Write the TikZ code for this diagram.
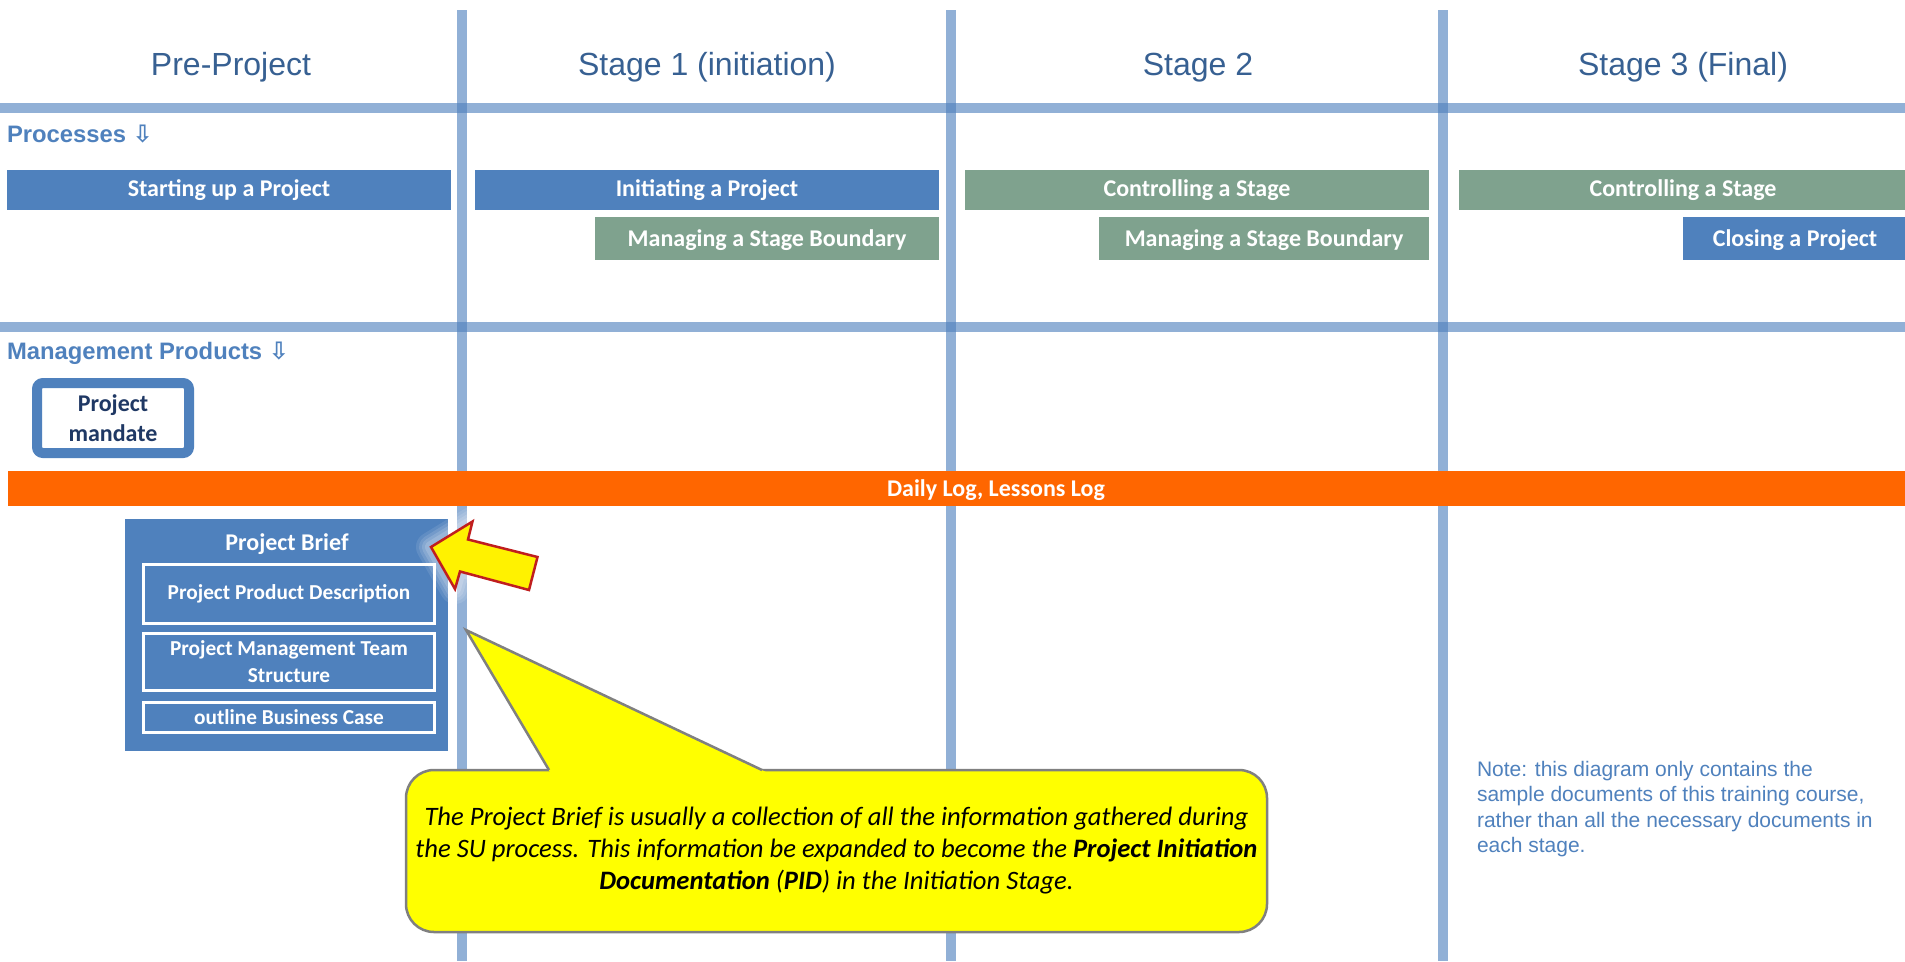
\documentclass[tikz,border=0pt]{standalone}
\usepackage{fontspec}
\setmainfont{Carlito}
\newfontfamily\arial{Liberation Sans}
\newfontfamily\symb{DejaVu Sans}

\definecolor{gridblue}{RGB}{79,129,189}
\definecolor{procblue}{RGB}{79,129,189}
\definecolor{procgreen}{RGB}{127,162,142}
\definecolor{headblue}{RGB}{55,96,146}
\definecolor{labelblue}{RGB}{79,129,189}
\definecolor{navy}{RGB}{31,56,100}
\definecolor{logorange}{RGB}{255,102,0}
\definecolor{notecol}{RGB}{79,129,189}
\definecolor{arrowred}{RGB}{192,30,30}
\definecolor{calloutgray}{RGB}{128,128,128}
\definecolor{calloutfill}{RGB}{255,255,0}

\begin{document}
\begin{tikzpicture}[x=1pt,y=-1pt,
  every node/.style={inner sep=0pt, outer sep=0pt},
  gridline/.style={draw=gridblue, line width=10pt, opacity=0.62},
  head/.style={font=\arial\fontsize{32}{38}\selectfont, text=headblue, anchor=base},
  rowlabel/.style={font=\arial\bfseries\fontsize{23.8}{28}\selectfont, text=labelblue, anchor=base west},
  procbar/.style={font=\bfseries\fontsize{24}{29}\selectfont, text=white, minimum height=40pt},
  boundarybar/.style={procbar, minimum height=43pt, text depth=0pt},
  subbox/.style={draw=white, line width=2.5pt, align=center, text=white,
    font=\bfseries\fontsize{21.3}{27}\selectfont},
  arrowshape/.style={fill=yellow, draw=arrowred, line width=2.5pt, line join=miter},
  callout/.style={fill=calloutfill, draw=calloutgray, line width=2.5pt},
]
\useasboundingbox (0,0) rectangle (1905,961);
\fill[white] (0,0) rectangle (1905,961);

% stage grid
\coordinate (v1t) at (461.5,10);  \coordinate (v1b) at (461.5,961);
\coordinate (v2t) at (951,10);    \coordinate (v2b) at (951,961);
\coordinate (v3t) at (1443,10);   \coordinate (v3b) at (1443,961);
\coordinate (h1l) at (0,108);     \coordinate (h1r) at (1905,108);
\coordinate (h2l) at (0,327);     \coordinate (h2r) at (1905,327);
\draw[gridline] (v1t) -- (v1b);
\draw[gridline] (v2t) -- (v2b);
\draw[gridline] (v3t) -- (v3b);
\draw[gridline] (h1l) -- (h1r);
\draw[gridline] (h2l) -- (h2r);

% stage headings
\node[head] (hpre) at (231,75) {Pre-Project};
\node[head] (hs1) at (707,75) {Stage 1 (initiation)};
\node[head] (hs2) at (1198,75) {Stage 2};
\node[head] (hs3) at (1683,75) {Stage 3 (Final)};

% row labels
\node[rowlabel] (lproc) at (7,142) {Processes {\symb\fontsize{24}{28}\selectfont ⇩}};
\node[rowlabel] (lprod) at (7,359) {Management Products {\symb\fontsize{24}{28}\selectfont ⇩}};

% processes
\node[procbar, fill=procblue, minimum width=444pt] (su) at (229,190) {Starting up a Project};
\node[procbar, fill=procblue, minimum width=464pt] (ip) at (707,190) {Initiating a Project};
\node[boundarybar, fill=procgreen, minimum width=344pt] (msb1) at (767,238.5) {Managing a Stage Boundary};
\node[procbar, fill=procgreen, minimum width=464pt] (cs2) at (1197,190) {Controlling a Stage};
\node[boundarybar, fill=procgreen, minimum width=330pt] (msb2) at (1264,238.5) {Managing a Stage Boundary};
\node[procbar, fill=procgreen, minimum width=448pt] (cs3) at (1683,190) {Controlling a Stage};
\node[boundarybar, fill=procblue, minimum width=224pt] (cp) at (1795,238.5) {Closing a Project};

% management products
\node[draw=procblue, line width=10pt, fill=white, rounded corners=6pt,
  minimum width=152pt, minimum height=70pt, align=center, text=navy,
  font=\bfseries\fontsize{24}{30}\selectfont] (mandate) at (113,418) {Project\\mandate};

\node[fill=logorange, minimum width=1980pt, minimum height=35pt, anchor=west] (dailybar) at (8,488.5) {};
\node[text=white, font=\bfseries\fontsize{24}{29}\selectfont] (dailytext) at (996,490.5) {Daily Log, Lessons Log};

\node[fill=procblue, minimum width=323pt, minimum height=232pt] (brief) at (286.5,635) {};
\node[text=white, font=\bfseries\fontsize{24}{29}\selectfont] (brieftitle) at (287,544) {Project Brief};
\node[subbox, minimum width=291pt, minimum height=59pt] (ppd) at (289,594) {Project Product Description};
\node[subbox, minimum width=291pt, minimum height=57pt] (pmts) at (289,662) {Project Management Team\\Structure};
\node[subbox, minimum width=291pt, minimum height=30pt] (obc) at (289,717.5) {outline Business Case};

% pointer arrow with a soft glow
\coordinate (atip) at (431,547);
\coordinate (ah1) at (472.5,521.5);
\coordinate (as1) at (468,539.5);
\coordinate (ae1) at (537.5,557);
\coordinate (ae2) at (529,590);
\coordinate (as2) at (460,571.5);
\coordinate (ah2) at (455,589);
\foreach \w/\o in {30/0.10, 24/0.12, 18/0.14, 12/0.16}
  \draw[white, line width=\w pt, opacity=\o, line join=round]
    (atip) -- (ah1) -- (as1) -- (ae1) -- (ae2) -- (as2) -- (ah2) -- cycle;
\draw[arrowshape] (atip) -- (ah1) -- (as1) -- (ae1) -- (ae2) -- (as2) -- (ah2) -- cycle;

% speech callout: rounded body, then the pointer laid over its top edge
\coordinate (ptip) at (466,630);
\coordinate (pb1) at (549,770);
\coordinate (pb2) at (762,770);
\draw[callout, rounded corners=28pt] (406,770) rectangle (1267,932);
\fill[calloutfill] (550.5,773) -- (ptip) -- (768,773) -- cycle;
\draw[calloutgray, line width=2.5pt, line join=miter] (pb1) -- (ptip) -- (pb2);
\node[align=center, font=\itshape\fontsize{26.6}{32}\selectfont, text=black] (callouttext) at (836.5,851)
  {The Project Brief is usually a collection of all the information gathered during\\
   the SU process. This information be expanded to become the \textbf{Project Initiation}\\
   \textbf{Documentation} (\textbf{PID}) in the Initiation Stage.};

% note
\node[anchor=north west, align=left, text=notecol, font=\arial\fontsize{21}{25.5}\selectfont] (note) at (1477,761)
  {Note: this diagram only contains the\\
   sample documents of this training course,\\
   rather than all the necessary documents in\\
   each stage.};
\end{tikzpicture}
\end{document}
